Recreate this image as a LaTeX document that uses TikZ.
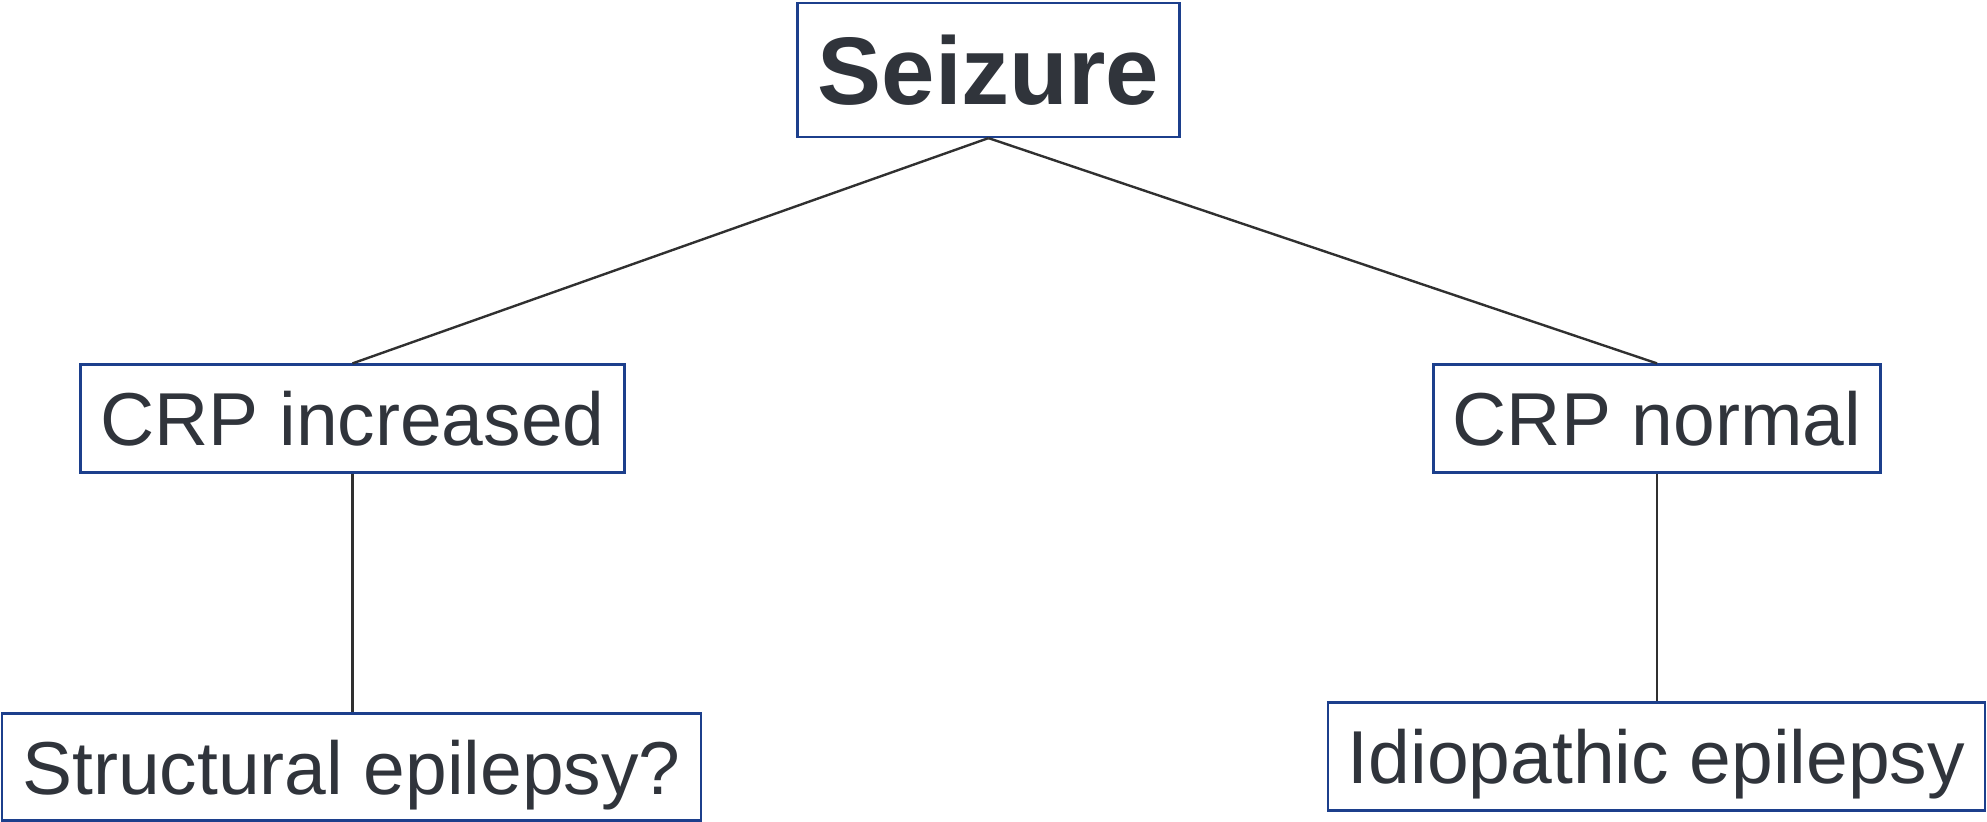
\documentclass[tikz,border=0pt]{standalone}
\usepackage{fontspec}
\setmainfont{Liberation Sans}
\definecolor{txt}{HTML}{30343B}
\definecolor{bord}{HTML}{1C3F8C}
\definecolor{conn}{HTML}{303030}
\begin{document}
\begin{tikzpicture}[x=1pt,y=-1pt,
  box/.style={draw=bord,line width=2.2pt,inner sep=0pt,text=txt,align=center,
    font=\fontsize{75}{90}\selectfont},
  link/.style={draw=conn,line width=2.4pt}]
\useasboundingbox (0,0) rectangle (1987,822);
\node[box,minimum width=382pt,minimum height=134pt,font=\fontsize{96}{110}\selectfont\bfseries] (seiz) at (988.5,70) {Seizure};
\node[box,minimum width=544pt,minimum height=108pt] (inc) at (352.5,418.5) {CRP increased};
\node[box,minimum width=447pt,minimum height=108pt] (norm) at (1657,418.5) {CRP normal};
\node[box,minimum width=699pt,minimum height=107pt,text depth=0pt] (struct) at (351.5,767) {Structural epilepsy?};
\node[box,minimum width=657pt,minimum height=108pt,text depth=0pt] (idio) at (1656.5,756.5) {Idiopathic epilepsy};
\draw[link] (seiz.south) -- (inc.north);
\draw[link] (seiz.south) -- (norm.north);
\draw[link] (inc.south) -- (inc.south |- struct.north);
\draw[link] (norm.south) -- (norm.south |- idio.north);
\end{tikzpicture}
\end{document}
